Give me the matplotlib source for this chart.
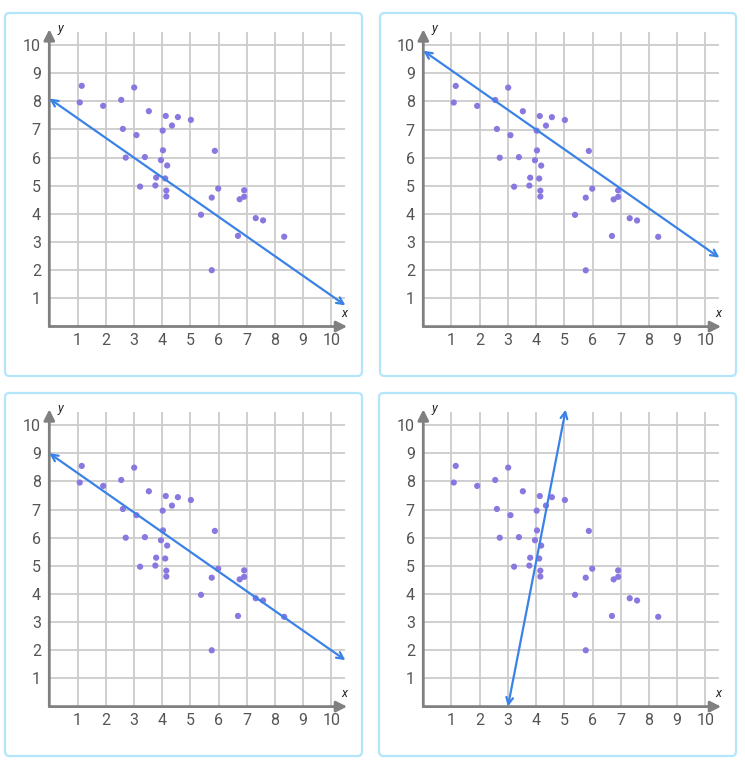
import matplotlib
matplotlib.use("Agg")
import matplotlib.pyplot as plt
from matplotlib.patches import FancyBboxPatch

plt.rcParams['font.family'] = ['Roboto', 'DejaVu Sans']

# scatter data (same in all four panels)
xs = [1.15, 1.08, 1.91, 3.01, 2.55, 3.53, 4.13, 4.56, 5.02, 4.35, 2.61, 4.02,
      3.09, 4.03, 5.87, 2.71, 3.39, 3.96, 4.18, 3.79, 4.11, 3.22, 3.76, 5.99,
      4.15, 4.15, 5.76, 6.91, 6.91, 6.75, 5.38, 7.32, 7.58, 6.69, 8.33, 5.76]
ys = [8.55, 7.96, 7.84, 8.49, 8.05, 7.65, 7.48, 7.44, 7.34, 7.14, 7.02, 6.96,
      6.80, 6.26, 6.24, 6.00, 6.02, 5.91, 5.72, 5.29, 5.26, 4.97, 5.01, 4.90,
      4.83, 4.62, 4.58, 4.84, 4.61, 4.52, 3.97, 3.85, 3.77, 3.22, 3.19, 2.00]

# candidate lines, one per panel: (x start, y start, x end, y end)
lines = [
    (0.0, 8.1, 10.5, 0.75),
    (0.0, 9.8, 10.5, 2.45),
    (0.0, 9.0, 10.5, 1.65),
    (3.0, 0.0, 5.05, 10.55),
]

ticks = list(range(1, 11))

W, H = 745, 762
fig = plt.figure(figsize=(W / 100, H / 100), dpi=100)

# panel frames (pixels: left, top, right, bottom) and axis origins (pixels)
frames = [(5, 13, 362, 376), (380, 13, 736, 376),
          (5, 393, 362, 756), (379, 393, 736, 756)]
origins = [(49.3, 326.5), (423.3, 326.6), (49.3, 706.6), (423.3, 706.6)]

ux, uy = 28.2, 28.15
lim = 10.6

for k in range(4):
    l, t, r, b = frames[k]
    box = FancyBboxPatch((l / W, 1 - b / H), (r - l) / W, (b - t) / H,
                         boxstyle="round,pad=0,rounding_size=0.006",
                         transform=fig.transFigure, facecolor='none',
                         edgecolor='#b3e5fb', linewidth=1.6, zorder=-1)
    fig.patches.append(box)

    ox, oy = origins[k]
    ax = fig.add_axes([ox / W, 1 - oy / H, lim * ux / W, lim * uy / H])
    ax.set_xlim(0, lim)
    ax.set_ylim(0, lim)
    ax.patch.set_alpha(0)
    for s in ax.spines.values():
        s.set_visible(False)

    for i in ticks:
        ax.vlines(i, 0, 10.47, color='#cccccc', lw=1.3, zorder=1)
        ax.hlines(i, 0, 10.5, color='#cccccc', lw=1.3, zorder=1)

    ax.set_xticks(ticks)
    ax.set_yticks(ticks)
    ax.tick_params(length=0, labelsize=11.5, labelcolor='#555555')
    ax.tick_params(axis='x', pad=4.5)
    ax.tick_params(axis='y', pad=6)

    # axes with arrowheads
    ax.annotate('', xy=(10.56, 0), xytext=(0, 0), annotation_clip=False,
                arrowprops=dict(arrowstyle='-|>', color='#808080', lw=2,
                                mutation_scale=16, shrinkA=0, shrinkB=0), zorder=3)
    ax.annotate('', xy=(0, 10.56), xytext=(0, 0), annotation_clip=False,
                arrowprops=dict(arrowstyle='-|>', color='#808080', lw=2,
                                mutation_scale=16, shrinkA=0, shrinkB=0), zorder=3)
    ax.text(10.48, 0.47, 'x', style='italic', fontsize=9, color='#222222',
            ha='center', va='center')
    ax.text(0.38, 10.6, 'y', style='italic', fontsize=9, color='#222222',
            ha='center', va='center')

    ax.scatter(xs, ys, s=20, color='#8878e0', edgecolors='none', zorder=4)

    x0, y0, x1, y1 = lines[k]
    ax.annotate('', xy=(x1, y1), xytext=(x0, y0), annotation_clip=False,
                arrowprops=dict(arrowstyle='<->', color='#3b82e6', lw=1.6,
                                mutation_scale=12, shrinkA=0, shrinkB=0), zorder=5)

fig.savefig('out.png', dpi=100)
